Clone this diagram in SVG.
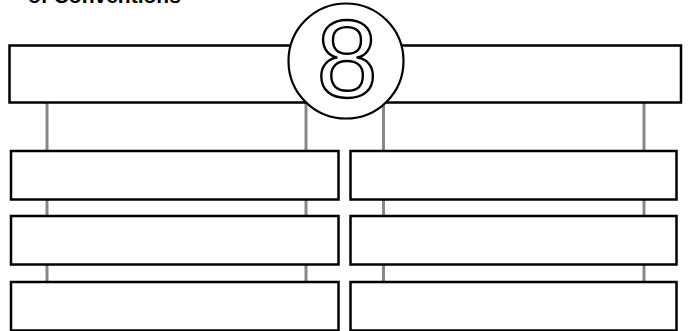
<svg xmlns="http://www.w3.org/2000/svg" width="688" height="331" viewBox="0 0 688 331">
<style>
.box{fill:#fff;stroke:#000;stroke-width:2.5}
.pole{stroke:#888;stroke-width:3;fill:none}
.title{font-family:"Liberation Sans",Arial,sans-serif;font-weight:bold;font-size:21px;fill:#000}
.num{font-family:"Liberation Sans",Arial,sans-serif;font-size:110px;fill:#fff;stroke:#000;stroke-width:2.4;text-anchor:middle}
</style>
<rect width="688" height="331" fill="#fff"/>
<text class="title" x="28" y="3">of Conventions</text>
<g id="connectors">
<line class="pole" x1="47" y1="103" x2="47" y2="331"/>
<line class="pole" x1="306" y1="103" x2="306" y2="331"/>
<line class="pole" x1="383.5" y1="103" x2="383.5" y2="331"/>
<line class="pole" x1="644" y1="103" x2="644" y2="331"/>
</g>
<g id="header">
<rect class="box" x="9.5" y="45.5" width="671.5" height="57"/>
</g>
<g id="badge">
<circle cx="346" cy="61" r="57.5" fill="#fff" stroke="#000" stroke-width="2.2"/>
<text class="num" x="347" y="97">8</text>
</g>
<g id="left1"><rect class="box" x="11" y="151" width="327.5" height="48.5"/></g>
<g id="left2"><rect class="box" x="11" y="216" width="327.5" height="48.5"/></g>
<g id="left3"><rect class="box" x="11" y="282" width="327.5" height="48.5"/></g>
<g id="right1"><rect class="box" x="350.5" y="151" width="326" height="48.5"/></g>
<g id="right2"><rect class="box" x="350.5" y="216" width="326" height="48.5"/></g>
<g id="right3"><rect class="box" x="350.5" y="282" width="326" height="48.5"/></g>
</svg>
